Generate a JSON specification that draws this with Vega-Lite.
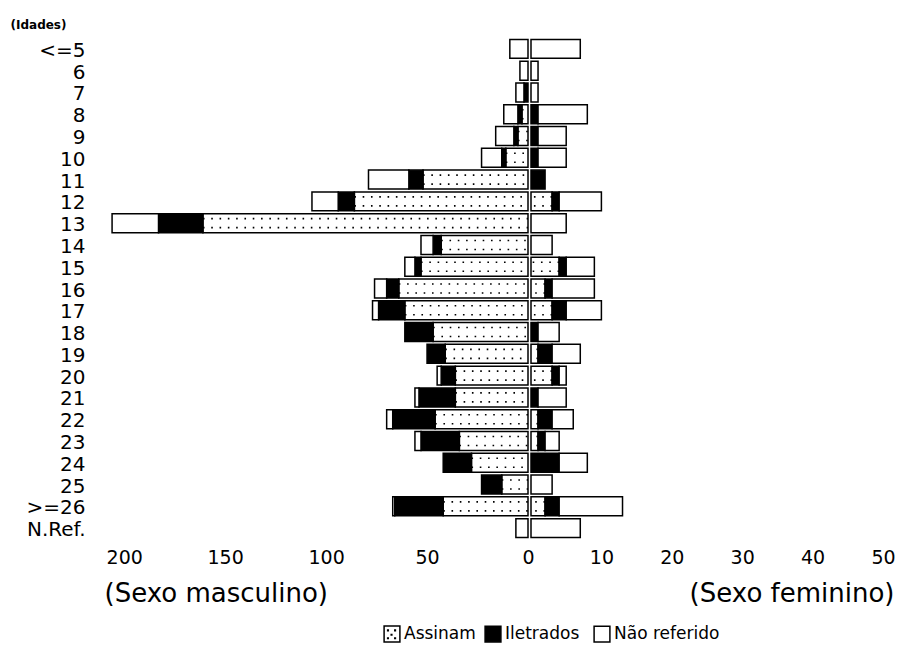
{
  "$schema": "https://vega.github.io/schema/vega-lite/v6.json",
  "background": "white",
  "padding": {"left": 10, "top": 18, "right": 0, "bottom": 0},
  "bounds": "flush",
  "spacing": 3,
  "config": {
    "view": {"stroke": null},
    "font": "DejaVu Sans",
    "axis": {"domain": false, "ticks": false, "grid": false, "labelColor": "black", "titleColor": "black", "labelFont": "DejaVu Sans", "titleFont": "DejaVu Sans", "labelFlush": false, "labelOverlap": false},
    "legend": {"labelFont": "DejaVu Sans"}
  },
  "datasets": {
    "d": [
      {"age": "<=5", "sex": "M", "cat": "Não referido", "value": 9},
      {"age": "6", "sex": "M", "cat": "Não referido", "value": 4},
      {"age": "7", "sex": "M", "cat": "Iletrados", "value": 2},
      {"age": "7", "sex": "M", "cat": "Não referido", "value": 4},
      {"age": "8", "sex": "M", "cat": "Assinam", "value": 3},
      {"age": "8", "sex": "M", "cat": "Iletrados", "value": 2},
      {"age": "8", "sex": "M", "cat": "Não referido", "value": 7},
      {"age": "9", "sex": "M", "cat": "Assinam", "value": 5},
      {"age": "9", "sex": "M", "cat": "Iletrados", "value": 2},
      {"age": "9", "sex": "M", "cat": "Não referido", "value": 9},
      {"age": "10", "sex": "M", "cat": "Assinam", "value": 11},
      {"age": "10", "sex": "M", "cat": "Iletrados", "value": 2},
      {"age": "10", "sex": "M", "cat": "Não referido", "value": 10},
      {"age": "11", "sex": "M", "cat": "Assinam", "value": 52},
      {"age": "11", "sex": "M", "cat": "Iletrados", "value": 7},
      {"age": "11", "sex": "M", "cat": "Não referido", "value": 20},
      {"age": "12", "sex": "M", "cat": "Assinam", "value": 86},
      {"age": "12", "sex": "M", "cat": "Iletrados", "value": 8},
      {"age": "12", "sex": "M", "cat": "Não referido", "value": 13},
      {"age": "13", "sex": "M", "cat": "Assinam", "value": 161},
      {"age": "13", "sex": "M", "cat": "Iletrados", "value": 22},
      {"age": "13", "sex": "M", "cat": "Não referido", "value": 23},
      {"age": "14", "sex": "M", "cat": "Assinam", "value": 43},
      {"age": "14", "sex": "M", "cat": "Iletrados", "value": 4},
      {"age": "14", "sex": "M", "cat": "Não referido", "value": 6},
      {"age": "15", "sex": "M", "cat": "Assinam", "value": 53},
      {"age": "15", "sex": "M", "cat": "Iletrados", "value": 3},
      {"age": "15", "sex": "M", "cat": "Não referido", "value": 5},
      {"age": "16", "sex": "M", "cat": "Assinam", "value": 64},
      {"age": "16", "sex": "M", "cat": "Iletrados", "value": 6},
      {"age": "16", "sex": "M", "cat": "Não referido", "value": 6},
      {"age": "17", "sex": "M", "cat": "Assinam", "value": 61},
      {"age": "17", "sex": "M", "cat": "Iletrados", "value": 13},
      {"age": "17", "sex": "M", "cat": "Não referido", "value": 3},
      {"age": "18", "sex": "M", "cat": "Assinam", "value": 47},
      {"age": "18", "sex": "M", "cat": "Iletrados", "value": 14},
      {"age": "19", "sex": "M", "cat": "Assinam", "value": 41},
      {"age": "19", "sex": "M", "cat": "Iletrados", "value": 9},
      {"age": "20", "sex": "M", "cat": "Assinam", "value": 36},
      {"age": "20", "sex": "M", "cat": "Iletrados", "value": 7},
      {"age": "20", "sex": "M", "cat": "Não referido", "value": 2},
      {"age": "21", "sex": "M", "cat": "Assinam", "value": 36},
      {"age": "21", "sex": "M", "cat": "Iletrados", "value": 18},
      {"age": "21", "sex": "M", "cat": "Não referido", "value": 2},
      {"age": "22", "sex": "M", "cat": "Assinam", "value": 46},
      {"age": "22", "sex": "M", "cat": "Iletrados", "value": 21},
      {"age": "22", "sex": "M", "cat": "Não referido", "value": 3},
      {"age": "23", "sex": "M", "cat": "Assinam", "value": 34},
      {"age": "23", "sex": "M", "cat": "Iletrados", "value": 19},
      {"age": "23", "sex": "M", "cat": "Não referido", "value": 3},
      {"age": "24", "sex": "M", "cat": "Assinam", "value": 28},
      {"age": "24", "sex": "M", "cat": "Iletrados", "value": 14},
      {"age": "25", "sex": "M", "cat": "Assinam", "value": 13},
      {"age": "25", "sex": "M", "cat": "Iletrados", "value": 10},
      {"age": ">=26", "sex": "M", "cat": "Assinam", "value": 42},
      {"age": ">=26", "sex": "M", "cat": "Iletrados", "value": 24},
      {"age": ">=26", "sex": "M", "cat": "Não referido", "value": 1},
      {"age": "N.Ref.", "sex": "M", "cat": "Não referido", "value": 6},
      {"age": "<=5", "sex": "F", "cat": "Não referido", "value": 7},
      {"age": "6", "sex": "F", "cat": "Não referido", "value": 1},
      {"age": "7", "sex": "F", "cat": "Não referido", "value": 1},
      {"age": "8", "sex": "F", "cat": "Iletrados", "value": 1},
      {"age": "8", "sex": "F", "cat": "Não referido", "value": 7},
      {"age": "9", "sex": "F", "cat": "Iletrados", "value": 1},
      {"age": "9", "sex": "F", "cat": "Não referido", "value": 4},
      {"age": "10", "sex": "F", "cat": "Iletrados", "value": 1},
      {"age": "10", "sex": "F", "cat": "Não referido", "value": 4},
      {"age": "11", "sex": "F", "cat": "Iletrados", "value": 2},
      {"age": "12", "sex": "F", "cat": "Assinam", "value": 3},
      {"age": "12", "sex": "F", "cat": "Iletrados", "value": 1},
      {"age": "12", "sex": "F", "cat": "Não referido", "value": 6},
      {"age": "13", "sex": "F", "cat": "Não referido", "value": 5},
      {"age": "14", "sex": "F", "cat": "Não referido", "value": 3},
      {"age": "15", "sex": "F", "cat": "Assinam", "value": 4},
      {"age": "15", "sex": "F", "cat": "Iletrados", "value": 1},
      {"age": "15", "sex": "F", "cat": "Não referido", "value": 4},
      {"age": "16", "sex": "F", "cat": "Assinam", "value": 2},
      {"age": "16", "sex": "F", "cat": "Iletrados", "value": 1},
      {"age": "16", "sex": "F", "cat": "Não referido", "value": 6},
      {"age": "17", "sex": "F", "cat": "Assinam", "value": 3},
      {"age": "17", "sex": "F", "cat": "Iletrados", "value": 2},
      {"age": "17", "sex": "F", "cat": "Não referido", "value": 5},
      {"age": "18", "sex": "F", "cat": "Iletrados", "value": 1},
      {"age": "18", "sex": "F", "cat": "Não referido", "value": 3},
      {"age": "19", "sex": "F", "cat": "Assinam", "value": 1},
      {"age": "19", "sex": "F", "cat": "Iletrados", "value": 2},
      {"age": "19", "sex": "F", "cat": "Não referido", "value": 4},
      {"age": "20", "sex": "F", "cat": "Assinam", "value": 3},
      {"age": "20", "sex": "F", "cat": "Iletrados", "value": 1},
      {"age": "20", "sex": "F", "cat": "Não referido", "value": 1},
      {"age": "21", "sex": "F", "cat": "Iletrados", "value": 1},
      {"age": "21", "sex": "F", "cat": "Não referido", "value": 4},
      {"age": "22", "sex": "F", "cat": "Assinam", "value": 1},
      {"age": "22", "sex": "F", "cat": "Iletrados", "value": 2},
      {"age": "22", "sex": "F", "cat": "Não referido", "value": 3},
      {"age": "23", "sex": "F", "cat": "Assinam", "value": 1},
      {"age": "23", "sex": "F", "cat": "Iletrados", "value": 1},
      {"age": "23", "sex": "F", "cat": "Não referido", "value": 2},
      {"age": "24", "sex": "F", "cat": "Iletrados", "value": 4},
      {"age": "24", "sex": "F", "cat": "Não referido", "value": 4},
      {"age": "25", "sex": "F", "cat": "Não referido", "value": 3},
      {"age": ">=26", "sex": "F", "cat": "Assinam", "value": 2},
      {"age": ">=26", "sex": "F", "cat": "Iletrados", "value": 2},
      {"age": ">=26", "sex": "F", "cat": "Não referido", "value": 9},
      {"age": "N.Ref.", "sex": "F", "cat": "Não referido", "value": 7}
    ]
  },
  "hconcat": [
    {
      "width": 424,
      "height": 501,
      "data": {"name": "d"},
      "transform": [{"filter": "datum.sex == 'M'"}],
      "encoding": {
        "y": {
          "field": "age", "type": "nominal",
          "sort": ["<=5","6","7","8","9","10","11","12","13","14","15","16","17","18","19","20","21","22","23","24","25",">=26","N.Ref."],
          "scale": {"paddingInner": 0.13, "paddingOuter": 0.065},
          "axis": {"title": "(Idades)", "titleAngle": 0, "titleX": -94, "titleY": -14, "titleAlign": "left", "titleBaseline": "middle", "titleFontSize": 12, "titleFontWeight": "bold", "labelFontSize": 20, "labelPadding": 19, "labelOffset": 2}
        }
      },
      "layer": [
        {
          "mark": {"type": "bar", "strokeWidth": 1.5},
          "encoding": {
            "x": {"field": "value", "type": "quantitative", "stack": "zero",
              "scale": {"domain": [0, 210], "reverse": true, "nice": false, "zero": true},
              "axis": {"values": [0, 50, 100, 150, 200], "labelFontSize": 19, "labelPadding": 9, "title": "(Sexo masculino)", "titleX": 0, "titleY": 54, "titleAlign": "left", "titleBaseline": "middle", "titleFontSize": 26, "titleFontWeight": "normal"}},
            "fill": {"field": "cat", "type": "nominal",
              "scale": {"domain": ["Assinam", "Iletrados", "Não referido"], "range": ["white", "black", "white"]},
              "legend": {
                "title": null, "orient": "none", "direction": "horizontal", "legendX": 380, "legendY": 587,
                "values": ["Iletrados", "Não referido"],
                "symbolType": "square", "symbolSize": 250, "symbolStrokeColor": "black", "symbolStrokeWidth": 1.5,
                "labelFontSize": 17, "labelOffset": 3, "columnPadding": 11, "padding": 0
              }},
            "stroke": {"datum": "Assinam", "type": "nominal",
              "scale": {"domain": ["Assinam"], "range": ["black"]},
              "legend": {
                "title": null, "orient": "none", "direction": "horizontal", "legendX": 279, "legendY": 587,
                "symbolType": "M-1,-1H1V1H-1Z M-0.55,-0.5h0.08v0.08h-0.08Z M0.35,-0.5h0.08v0.08h-0.08Z M-0.1,0.05h0.08v0.08h-0.08Z M-0.55,0.5h0.08v0.08h-0.08Z M0.35,0.5h0.08v0.08h-0.08Z",
                "symbolSize": 250, "symbolFillColor": "white", "symbolStrokeWidth": 1.5,
                "labelFontSize": 17, "labelOffset": 3, "padding": 0
              }},
            "order": {"field": "cat", "type": "nominal", "sort": "ascending"}
          }
        },
        {
          "transform": [{"filter": "datum.cat == 'Assinam'"}],
          "mark": {"type": "rule", "color": "black", "strokeWidth": 1.6, "strokeDash": [1.6, 6.7], "yOffset": -4.5},
          "encoding": {"x": {"field": "value", "type": "quantitative"}, "x2": {"datum": 0}}
        },
        {
          "transform": [{"filter": "datum.cat == 'Assinam'"}],
          "mark": {"type": "rule", "color": "black", "strokeWidth": 1.6, "strokeDash": [1.6, 6.7], "yOffset": 4.5},
          "encoding": {"x": {"field": "value", "type": "quantitative"}, "x2": {"datum": 0}}
        }
      ]
    },
    {
      "width": 352,
      "height": 501,
      "data": {"name": "d"},
      "transform": [{"filter": "datum.sex == 'F'"}],
      "encoding": {
        "y": {
          "field": "age", "type": "nominal",
          "sort": ["<=5","6","7","8","9","10","11","12","13","14","15","16","17","18","19","20","21","22","23","24","25",">=26","N.Ref."],
          "scale": {"paddingInner": 0.13, "paddingOuter": 0.065},
          "axis": null
        }
      },
      "layer": [
        {
          "mark": {"type": "bar", "stroke": "black", "strokeWidth": 1.5},
          "encoding": {
            "x": {"field": "value", "type": "quantitative", "stack": "zero",
              "scale": {"domain": [0, 50], "nice": false, "zero": true},
              "axis": {"values": [10, 20, 30, 40, 50], "labelFontSize": 19, "labelPadding": 9, "title": "(Sexo feminino)", "titleX": 363, "titleY": 54, "titleAlign": "right", "titleBaseline": "middle", "titleFontSize": 26, "titleFontWeight": "normal"}},
            "fill": {"field": "cat", "type": "nominal"},
            "order": {"field": "cat", "type": "nominal", "sort": "ascending"}
          }
        },
        {
          "transform": [{"filter": "datum.cat == 'Assinam'"}],
          "mark": {"type": "rule", "color": "black", "strokeWidth": 1.6, "strokeDash": [1.6, 6.7], "yOffset": -4.5},
          "encoding": {"x": {"field": "value", "type": "quantitative"}, "x2": {"datum": 0}}
        },
        {
          "transform": [{"filter": "datum.cat == 'Assinam'"}],
          "mark": {"type": "rule", "color": "black", "strokeWidth": 1.6, "strokeDash": [1.6, 6.7], "yOffset": 4.5},
          "encoding": {"x": {"field": "value", "type": "quantitative"}, "x2": {"datum": 0}}
        }
      ]
    }
  ]
}
